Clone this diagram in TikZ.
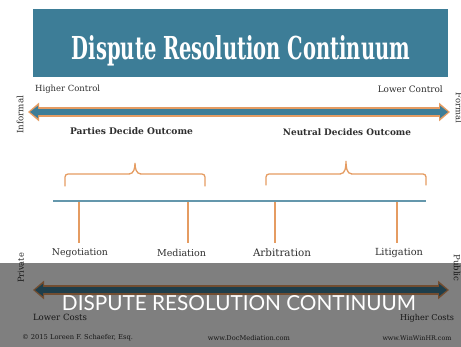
\documentclass[tikz,border=0pt]{standalone}
\usepackage{fontspec}
\setmainfont{DejaVu Serif}
\newfontfamily\capsfont{Lato}
\usetikzlibrary{arrows.meta}

\definecolor{tealbox}{HTML}{3D7D97}
\definecolor{orng}{HTML}{E59C62}
\definecolor{ink}{HTML}{2E2E2E}

% scale a text to a given width (height follows)
\newcommand{\wbox}[2]{\resizebox{#1}{!}{#2}}

\begin{document}
\begin{tikzpicture}[x=1pt,y=-1pt,
  lbl/.style={text=ink,inner sep=0pt,font=\fontsize{8}{9}\selectfont},
  head/.style={text=ink,inner sep=0pt,font=\fontsize{8}{9}\selectfont\bfseries},
  side/.style={text=ink,inner sep=0pt,font=\fontsize{7}{8}\selectfont},
  foot/.style={text=ink,inner sep=0pt,font=\fontsize{6}{7}\selectfont},
  bandout/.style={draw=orng,line width=10pt,
    {Triangle[width=18pt,length=11pt]}-{Triangle[width=18pt,length=11pt]}},
  bandin/.style={draw=tealbox,line width=5.5pt,shorten <=2pt,shorten >=2pt,
    {Triangle[width=12pt,length=8pt]}-{Triangle[width=12pt,length=8pt]}},
  bracket/.style={draw=orng,line width=1.3pt,line cap=round,rounded corners=3pt},
  tick/.style={draw=orng,line width=1.2pt},
  rail/.style={draw=tealbox!80,line width=2.6pt}
]
\useasboundingbox (0,0) rectangle (461,347);
\fill[white] (0,0) rectangle (461,347);

% title banner
\node[fill=tealbox,minimum width=415pt,minimum height=68pt,inner sep=0pt,anchor=north west]
  (banner) at (33,9) {};
\node[text=white,inner sep=0pt,anchor=base,font=\bfseries] (title) at (241,60)
  {\resizebox{338pt}{24pt}{Dispute Resolution Continuum}};

% control axis
\node[lbl,anchor=west] (hictl) at (35,89) {\wbox{65pt}{Higher Control}};
\node[lbl,anchor=east] (loctl) at (443,89) {\wbox{65pt}{Lower Control}};
\coordinate (ctlL) at (28,112);
\coordinate (ctlR) at (450,112);
\draw[bandout] (ctlL) -- (ctlR);
\draw[bandin] (ctlL) -- (ctlR);
\node[side,rotate=90] (informal) at (20,115) {\wbox{38pt}{Informal}};
\node[side,rotate=-90] (formal) at (459,108) {\wbox{30pt}{Formal}};

% who decides
\node[head] (parties) at (131.5,131) {\wbox{123pt}{Parties Decide Outcome}};
\node[head] (neutral) at (347,132) {\wbox{128pt}{Neutral Decides Outcome}};

% braces
\draw[bracket] (65,186) |- (129,174);
\draw[draw=orng,line width=1.3pt] (129,174) to[out=0,in=-90] (135,163)
  to[out=-90,in=180] (141,174);
\draw[bracket] (141,174) -| (205,186);
\draw[bracket] (266,185) |- (340,174);
\draw[draw=orng,line width=1.3pt] (340,174) to[out=0,in=-90] (346,161)
  to[out=-90,in=180] (352,174);
\draw[bracket] (352,174) -| (426,185);

% process rail and the four methods
\coordinate (railL) at (53,201);
\coordinate (railR) at (426,201);
\draw[rail] (railL) -- (railR);
\node[lbl] (neg) at (80,253) {\wbox{56pt}{Negotiation}};
\node[lbl] (med) at (181.5,253) {\wbox{49pt}{Mediation}};
\node[lbl] (arb) at (282,253) {\wbox{58pt}{Arbitration}};
\node[lbl] (lit) at (399,253) {\wbox{48pt}{Litigation}};
\coordinate (t1) at (79,202);   \coordinate (b1) at (79,243);
\coordinate (t2) at (188,202);  \coordinate (b2) at (188,243);
\coordinate (t3) at (275,202);  \coordinate (b3) at (275,243);
\coordinate (t4) at (397,202);  \coordinate (b4) at (397,243);
\draw[tick] (t1) -- (b1);
\draw[tick] (t2) -- (b2);
\draw[tick] (t3) -- (b3);
\draw[tick] (t4) -- (b4);

% cost axis
\node[side,rotate=90] (private) at (21,268) {\wbox{30pt}{Private}};
\node[side,rotate=-90] (public) at (457,268) {\wbox{27pt}{Public}};
\coordinate (costL) at (33,290);
\coordinate (costR) at (449,290);
\draw[bandout] (costL) -- (costR);
\draw[bandin] (costL) -- (costR);
\node[lbl] (locost) at (60,317.5) {\wbox{54pt}{Lower Costs}};
\node[lbl] (hicost) at (427,318) {\wbox{54pt}{Higher Costs}};

% footer
\node[foot] (copy) at (77.5,338) {\wbox{111pt}{© 2015 Loreen F. Schaefer, Esq.}};
\node[foot] (site1) at (249,338) {\wbox{82pt}{www.DocMediation.com}};
\node[foot] (site2) at (417,338) {\wbox{69pt}{www.WinWinHR.com}};

% caption strip
\fill[black,opacity=0.5] (0,263) rectangle (461,347);
\node[text=white,inner sep=0pt,anchor=base] (caption) at (239,310.5)
  {\resizebox{354pt}{15pt}{\capsfont DISPUTE RESOLUTION CONTINUUM}};
\end{tikzpicture}
\end{document}
